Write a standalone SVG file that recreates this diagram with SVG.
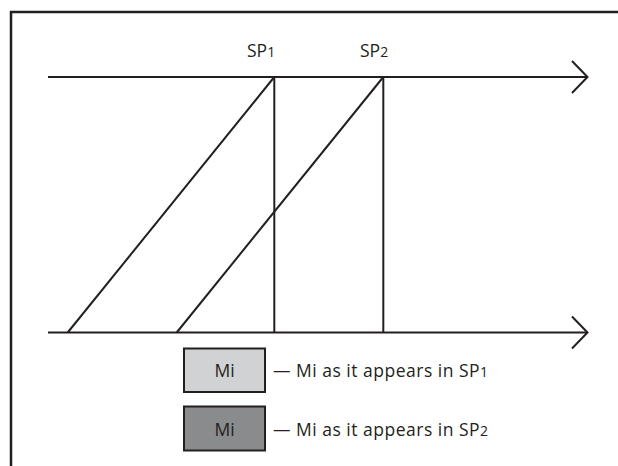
<svg xmlns="http://www.w3.org/2000/svg" width="618" height="466" viewBox="0 0 618 466">
<style>
.ln{stroke:#231f20;stroke-width:2;fill:none}
.t{font-family:"Open Sans","Liberation Sans",sans-serif;font-size:17.5px;fill:#231f20}
.lg{letter-spacing:0.5px}
.box{stroke:#231f20;stroke-width:2}
</style>
<rect width="618" height="466" fill="#ffffff"/>
<path d="M11 466 V12 H618" fill="none" stroke="#231f20" stroke-width="2.5"/>
<g id="connectors">
<path class="ln" d="M48 77 H587"/>
<path class="ln" d="M572 61 L587.5 77 L572 93"/>
<path class="ln" d="M48 332.5 H587"/>
<path class="ln" d="M572 316.5 L587.5 332.5 L572 348.5"/>
<path class="ln" d="M67.7 332.5 L274.3 77"/>
<path class="ln" d="M176.7 332.5 L383.3 77"/>
<path class="ln" d="M274.3 77 V332.5"/>
<path class="ln" d="M383.3 77 V332.5"/>
</g>
<g id="sp1"><text class="t" x="247" y="57">SP<tspan font-size="14">1</tspan></text></g>
<g id="sp2"><text class="t" x="360" y="57">SP<tspan font-size="14">2</tspan></text></g>
<g id="legend1">
<rect class="box" x="184" y="348.5" width="81" height="43.5" fill="#d1d2d4"/>
<text class="t" x="224.5" y="377" text-anchor="middle">Mi</text>
<text class="t lg" x="273" y="377">— Mi as it appears in SP<tspan font-size="14">1</tspan></text>
</g>
<g id="legend2">
<rect class="box" x="184" y="406.5" width="81" height="44" fill="#8a8b8d"/>
<text class="t" x="224.5" y="436" text-anchor="middle">Mi</text>
<text class="t lg" x="273" y="436">— Mi as it appears in SP<tspan font-size="14">2</tspan></text>
</g>
</svg>
